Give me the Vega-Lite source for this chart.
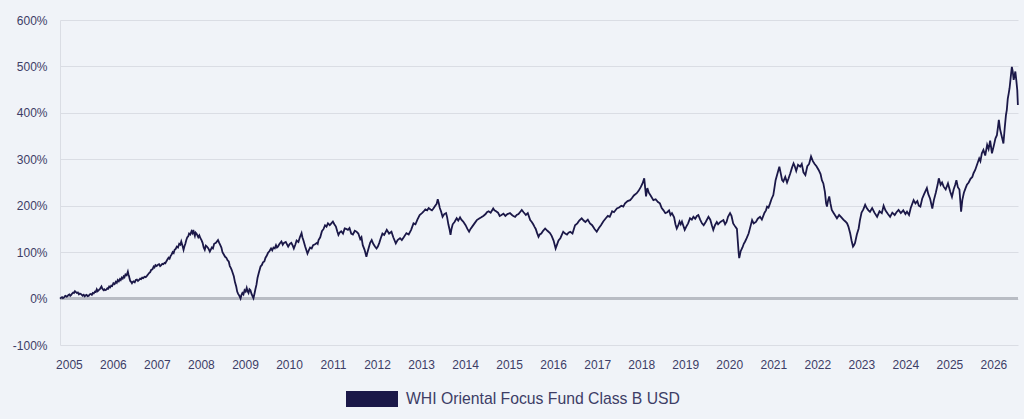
{
"$schema": "https://vega.github.io/schema/vega-lite/v6.json",
"width": 958, "height": 325,
"autosize": {"type": "none"},
"padding": {"left": 60, "top": 20, "right": 6, "bottom": 74},
"background": "#f0f3f8",
"config": {"view": {"stroke": null}, "font": "Liberation Sans"},
"data": {"values": [
{"date":"2004-10-19","value":0},{"date":"2004-10-28","value":2},{"date":"2004-11-05","value":3},{"date":"2004-11-12","value":1},{"date":"2004-11-20","value":2},{"date":"2004-11-28","value":5},{"date":"2004-12-05","value":6},{"date":"2004-12-12","value":4},{"date":"2004-12-20","value":5},{"date":"2004-12-28","value":8},
{"date":"2005-01-05","value":9},{"date":"2005-01-12","value":6},{"date":"2005-01-20","value":8},{"date":"2005-01-28","value":11},{"date":"2005-02-05","value":13},{"date":"2005-02-12","value":12},{"date":"2005-02-20","value":16},{"date":"2005-02-28","value":14},{"date":"2005-03-08","value":12},{"date":"2005-03-16","value":13},{"date":"2005-03-25","value":9},{"date":"2005-04-02","value":11},{"date":"2005-04-10","value":10},{"date":"2005-04-18","value":8},{"date":"2005-04-25","value":6},{"date":"2005-05-04","value":8},{"date":"2005-05-12","value":5},{"date":"2005-05-20","value":7},{"date":"2005-05-28","value":8},{"date":"2005-06-06","value":5},{"date":"2005-06-15","value":6},{"date":"2005-06-22","value":9},{"date":"2005-07-01","value":10},{"date":"2005-07-10","value":8},{"date":"2005-07-18","value":12},{"date":"2005-07-26","value":11},{"date":"2005-08-05","value":15},{"date":"2005-08-12","value":14},{"date":"2005-08-20","value":20},{"date":"2005-08-28","value":16},{"date":"2005-09-05","value":18},{"date":"2005-09-16","value":21},{"date":"2005-09-28","value":26},{"date":"2005-10-06","value":21},{"date":"2005-10-15","value":18},{"date":"2005-10-22","value":20},{"date":"2005-10-28","value":18},{"date":"2005-11-06","value":19},{"date":"2005-11-15","value":22},{"date":"2005-11-22","value":21},{"date":"2005-12-01","value":26},{"date":"2005-12-09","value":24},{"date":"2005-12-18","value":28},{"date":"2005-12-26","value":27},
{"date":"2006-01-05","value":33},{"date":"2006-01-15","value":31},{"date":"2006-01-25","value":36},{"date":"2006-02-02","value":34},{"date":"2006-02-10","value":40},{"date":"2006-02-19","value":37},{"date":"2006-02-28","value":42},{"date":"2006-03-07","value":40},{"date":"2006-03-15","value":45},{"date":"2006-03-23","value":43},{"date":"2006-03-31","value":48},{"date":"2006-04-07","value":46},{"date":"2006-04-15","value":52},{"date":"2006-04-25","value":50},{"date":"2006-05-05","value":58},{"date":"2006-05-10","value":52},{"date":"2006-05-15","value":48},{"date":"2006-05-20","value":42},{"date":"2006-05-25","value":38},{"date":"2006-06-01","value":36},{"date":"2006-06-08","value":33},{"date":"2006-06-15","value":36},{"date":"2006-06-22","value":37},{"date":"2006-07-01","value":35},{"date":"2006-07-10","value":40},{"date":"2006-07-19","value":41},{"date":"2006-07-28","value":38},{"date":"2006-08-06","value":40},{"date":"2006-08-15","value":43},{"date":"2006-08-23","value":42},{"date":"2006-09-01","value":45},{"date":"2006-09-10","value":44},{"date":"2006-09-20","value":47},{"date":"2006-09-30","value":46},{"date":"2006-10-10","value":49},{"date":"2006-10-19","value":52},{"date":"2006-10-28","value":55},{"date":"2006-11-06","value":57},{"date":"2006-11-15","value":62},{"date":"2006-11-25","value":63},{"date":"2006-12-05","value":69},{"date":"2006-12-12","value":67},{"date":"2006-12-20","value":72},{"date":"2006-12-30","value":70},
{"date":"2007-01-10","value":73},{"date":"2007-01-19","value":74},{"date":"2007-01-28","value":70},{"date":"2007-02-06","value":72},{"date":"2007-02-15","value":75},{"date":"2007-02-24","value":74},{"date":"2007-03-05","value":77},{"date":"2007-03-12","value":76},{"date":"2007-03-20","value":80},{"date":"2007-03-29","value":84},{"date":"2007-04-08","value":88},{"date":"2007-04-16","value":86},{"date":"2007-04-25","value":92},{"date":"2007-05-03","value":95},{"date":"2007-05-12","value":100},{"date":"2007-05-20","value":98},{"date":"2007-05-28","value":105},{"date":"2007-06-06","value":107},{"date":"2007-06-15","value":112},{"date":"2007-06-25","value":110},{"date":"2007-07-05","value":118},{"date":"2007-07-14","value":116},{"date":"2007-07-22","value":123},{"date":"2007-08-01","value":114},{"date":"2007-08-10","value":105},{"date":"2007-08-17","value":112},{"date":"2007-08-25","value":118},{"date":"2007-09-02","value":126},{"date":"2007-09-10","value":132},{"date":"2007-09-18","value":134},{"date":"2007-09-25","value":140},{"date":"2007-10-05","value":138},{"date":"2007-10-15","value":145},{"date":"2007-10-23","value":141},{"date":"2007-10-30","value":148},{"date":"2007-11-06","value":140},{"date":"2007-11-12","value":135},{"date":"2007-11-18","value":142},{"date":"2007-11-25","value":140},{"date":"2007-12-03","value":136},{"date":"2007-12-10","value":132},{"date":"2007-12-19","value":136},{"date":"2007-12-28","value":130},
{"date":"2008-01-06","value":126},{"date":"2008-01-15","value":120},{"date":"2008-01-24","value":110},{"date":"2008-02-02","value":105},{"date":"2008-02-11","value":114},{"date":"2008-02-20","value":112},{"date":"2008-03-03","value":108},{"date":"2008-03-15","value":101},{"date":"2008-03-24","value":106},{"date":"2008-04-01","value":110},{"date":"2008-04-10","value":108},{"date":"2008-04-20","value":118},{"date":"2008-05-05","value":120},{"date":"2008-05-22","value":126},{"date":"2008-06-01","value":120},{"date":"2008-06-10","value":115},{"date":"2008-06-19","value":110},{"date":"2008-06-28","value":100},{"date":"2008-07-09","value":95},{"date":"2008-07-20","value":90},{"date":"2008-07-30","value":88},{"date":"2008-08-10","value":82},{"date":"2008-08-19","value":80},{"date":"2008-08-28","value":70},{"date":"2008-09-05","value":66},{"date":"2008-09-12","value":62},{"date":"2008-09-21","value":55},{"date":"2008-09-30","value":48},{"date":"2008-10-10","value":35},{"date":"2008-10-20","value":26},{"date":"2008-10-28","value":15},{"date":"2008-11-05","value":10},{"date":"2008-11-15","value":6},{"date":"2008-11-25","value":0},{"date":"2008-12-03","value":8},{"date":"2008-12-10","value":12},{"date":"2008-12-19","value":9},{"date":"2008-12-28","value":18},
{"date":"2009-01-06","value":15},{"date":"2009-01-15","value":23},{"date":"2009-01-22","value":16},{"date":"2009-01-30","value":12},{"date":"2009-02-07","value":20},{"date":"2009-02-15","value":18},{"date":"2009-02-24","value":10},{"date":"2009-03-05","value":5},{"date":"2009-03-12","value":1},{"date":"2009-03-20","value":10},{"date":"2009-03-28","value":20},{"date":"2009-04-06","value":30},{"date":"2009-04-15","value":45},{"date":"2009-04-25","value":55},{"date":"2009-05-10","value":69},{"date":"2009-05-20","value":72},{"date":"2009-05-30","value":78},{"date":"2009-06-10","value":80},{"date":"2009-06-20","value":88},{"date":"2009-06-30","value":92},{"date":"2009-07-10","value":98},{"date":"2009-07-22","value":102},{"date":"2009-08-05","value":108},{"date":"2009-08-15","value":104},{"date":"2009-08-25","value":110},{"date":"2009-09-05","value":108},{"date":"2009-09-15","value":115},{"date":"2009-09-23","value":110},{"date":"2009-10-01","value":112},{"date":"2009-10-15","value":118},{"date":"2009-10-30","value":123},{"date":"2009-11-10","value":116},{"date":"2009-11-20","value":120},{"date":"2009-12-05","value":122},{"date":"2009-12-25","value":112},
{"date":"2010-01-08","value":118},{"date":"2010-01-20","value":120},{"date":"2010-02-01","value":114},{"date":"2010-02-10","value":108},{"date":"2010-02-22","value":116},{"date":"2010-03-05","value":125},{"date":"2010-03-20","value":122},{"date":"2010-04-01","value":132},{"date":"2010-04-15","value":141},{"date":"2010-04-22","value":132},{"date":"2010-05-01","value":125},{"date":"2010-05-15","value":112},{"date":"2010-06-03","value":97},{"date":"2010-06-14","value":104},{"date":"2010-06-25","value":110},{"date":"2010-07-08","value":108},{"date":"2010-07-20","value":115},{"date":"2010-08-05","value":117},{"date":"2010-08-20","value":120},{"date":"2010-08-27","value":118},{"date":"2010-09-03","value":126},{"date":"2010-09-17","value":132},{"date":"2010-10-01","value":145},{"date":"2010-10-15","value":150},{"date":"2010-10-27","value":158},{"date":"2010-11-08","value":155},{"date":"2010-11-20","value":162},{"date":"2010-12-05","value":158},{"date":"2010-12-18","value":162},{"date":"2010-12-31","value":166},
{"date":"2011-01-12","value":160},{"date":"2011-01-25","value":155},{"date":"2011-02-05","value":145},{"date":"2011-02-15","value":137},{"date":"2011-02-25","value":142},{"date":"2011-03-10","value":145},{"date":"2011-03-25","value":140},{"date":"2011-04-08","value":151},{"date":"2011-04-20","value":150},{"date":"2011-05-05","value":148},{"date":"2011-05-18","value":152},{"date":"2011-06-01","value":140},{"date":"2011-06-15","value":138},{"date":"2011-07-01","value":146},{"date":"2011-07-15","value":144},{"date":"2011-07-30","value":140},{"date":"2011-08-15","value":128},{"date":"2011-08-25","value":132},{"date":"2011-09-05","value":115},{"date":"2011-09-20","value":105},{"date":"2011-10-05","value":90},{"date":"2011-10-14","value":100},{"date":"2011-10-25","value":110},{"date":"2011-11-05","value":120},{"date":"2011-11-18","value":126},{"date":"2011-12-01","value":118},{"date":"2011-12-15","value":112},{"date":"2011-12-28","value":108},
{"date":"2012-01-08","value":112},{"date":"2012-01-20","value":120},{"date":"2012-02-01","value":130},{"date":"2012-02-15","value":140},{"date":"2012-03-01","value":137},{"date":"2012-03-22","value":148},{"date":"2012-04-10","value":140},{"date":"2012-04-30","value":144},{"date":"2012-05-15","value":132},{"date":"2012-06-05","value":119},{"date":"2012-06-20","value":126},{"date":"2012-07-10","value":130},{"date":"2012-07-25","value":126},{"date":"2012-08-10","value":132},{"date":"2012-09-01","value":141},{"date":"2012-09-20","value":138},{"date":"2012-10-10","value":148},{"date":"2012-10-30","value":162},{"date":"2012-11-15","value":160},{"date":"2012-12-01","value":170},{"date":"2012-12-20","value":180},
{"date":"2013-01-08","value":184},{"date":"2013-01-20","value":187},{"date":"2013-02-05","value":192},{"date":"2013-02-20","value":190},{"date":"2013-03-05","value":195},{"date":"2013-03-20","value":192},{"date":"2013-04-01","value":190},{"date":"2013-04-13","value":194},{"date":"2013-04-28","value":200},{"date":"2013-05-10","value":204},{"date":"2013-05-19","value":214},{"date":"2013-05-28","value":205},{"date":"2013-06-05","value":195},{"date":"2013-06-15","value":188},{"date":"2013-06-28","value":176},{"date":"2013-07-12","value":182},{"date":"2013-07-27","value":184},{"date":"2013-08-05","value":175},{"date":"2013-08-15","value":160},{"date":"2013-08-24","value":150},{"date":"2013-09-02","value":137},{"date":"2013-09-10","value":150},{"date":"2013-09-20","value":160},{"date":"2013-10-05","value":165},{"date":"2013-10-23","value":173},{"date":"2013-11-05","value":168},{"date":"2013-11-20","value":175},{"date":"2013-12-01","value":170},{"date":"2013-12-16","value":166},
{"date":"2014-01-05","value":158},{"date":"2014-01-20","value":150},{"date":"2014-02-03","value":144},{"date":"2014-02-15","value":150},{"date":"2014-03-01","value":155},{"date":"2014-03-20","value":162},{"date":"2014-04-08","value":169},{"date":"2014-04-25","value":172},{"date":"2014-05-15","value":175},{"date":"2014-06-01","value":178},{"date":"2014-06-20","value":182},{"date":"2014-07-01","value":186},{"date":"2014-07-15","value":188},{"date":"2014-08-01","value":185},{"date":"2014-08-22","value":194},{"date":"2014-09-01","value":190},{"date":"2014-09-15","value":188},{"date":"2014-10-01","value":185},{"date":"2014-10-15","value":178},{"date":"2014-10-30","value":180},{"date":"2014-11-15","value":183},{"date":"2014-12-01","value":178},{"date":"2014-12-18","value":182},
{"date":"2015-01-08","value":184},{"date":"2015-01-25","value":180},{"date":"2015-02-05","value":178},{"date":"2015-02-20","value":176},{"date":"2015-03-05","value":180},{"date":"2015-03-20","value":182},{"date":"2015-04-01","value":186},{"date":"2015-04-16","value":191},{"date":"2015-05-01","value":186},{"date":"2015-05-20","value":180},{"date":"2015-06-05","value":184},{"date":"2015-06-25","value":169},{"date":"2015-07-08","value":165},{"date":"2015-07-20","value":160},{"date":"2015-07-30","value":155},{"date":"2015-08-10","value":150},{"date":"2015-08-20","value":142},{"date":"2015-09-02","value":133},{"date":"2015-09-12","value":138},{"date":"2015-09-25","value":140},{"date":"2015-10-10","value":146},{"date":"2015-10-27","value":151},{"date":"2015-11-15","value":146},{"date":"2015-12-06","value":141},{"date":"2015-12-20","value":135},
{"date":"2016-01-05","value":125},{"date":"2016-01-22","value":108},{"date":"2016-02-01","value":115},{"date":"2016-02-15","value":125},{"date":"2016-03-01","value":130},{"date":"2016-03-25","value":144},{"date":"2016-04-10","value":140},{"date":"2016-04-25","value":138},{"date":"2016-05-08","value":142},{"date":"2016-05-22","value":144},{"date":"2016-06-10","value":140},{"date":"2016-07-01","value":158},{"date":"2016-07-20","value":162},{"date":"2016-08-05","value":168},{"date":"2016-08-25","value":173},{"date":"2016-09-10","value":168},{"date":"2016-09-25","value":165},{"date":"2016-10-15","value":170},{"date":"2016-11-02","value":162},{"date":"2016-11-20","value":158},{"date":"2016-12-10","value":150},{"date":"2016-12-28","value":144},
{"date":"2017-01-15","value":152},{"date":"2017-02-01","value":158},{"date":"2017-02-20","value":166},{"date":"2017-03-10","value":172},{"date":"2017-03-30","value":178},{"date":"2017-04-15","value":176},{"date":"2017-05-05","value":188},{"date":"2017-05-20","value":186},{"date":"2017-06-13","value":194},{"date":"2017-07-01","value":196},{"date":"2017-07-20","value":200},{"date":"2017-08-05","value":198},{"date":"2017-08-20","value":205},{"date":"2017-09-10","value":210},{"date":"2017-10-01","value":212},{"date":"2017-10-15","value":216},{"date":"2017-11-01","value":222},{"date":"2017-11-25","value":227},{"date":"2017-12-10","value":232},{"date":"2017-12-28","value":240},
{"date":"2018-01-12","value":248},{"date":"2018-01-26","value":259},{"date":"2018-02-03","value":238},{"date":"2018-02-10","value":220},{"date":"2018-02-21","value":238},{"date":"2018-03-05","value":228},{"date":"2018-03-20","value":222},{"date":"2018-04-12","value":212},{"date":"2018-05-01","value":214},{"date":"2018-05-20","value":208},{"date":"2018-06-05","value":205},{"date":"2018-06-20","value":195},{"date":"2018-07-05","value":190},{"date":"2018-07-20","value":184},{"date":"2018-08-05","value":186},{"date":"2018-08-20","value":190},{"date":"2018-09-01","value":180},{"date":"2018-09-13","value":184},{"date":"2018-10-01","value":175},{"date":"2018-10-12","value":160},{"date":"2018-10-23","value":151},{"date":"2018-11-05","value":158},{"date":"2018-11-15","value":166},{"date":"2018-11-25","value":160},{"date":"2018-12-05","value":166},{"date":"2018-12-15","value":158},{"date":"2018-12-28","value":148},
{"date":"2019-01-10","value":155},{"date":"2019-01-25","value":162},{"date":"2019-02-10","value":173},{"date":"2019-02-25","value":170},{"date":"2019-03-10","value":176},{"date":"2019-03-25","value":172},{"date":"2019-04-08","value":178},{"date":"2019-04-20","value":180},{"date":"2019-05-05","value":170},{"date":"2019-05-20","value":162},{"date":"2019-06-03","value":158},{"date":"2019-06-20","value":165},{"date":"2019-07-13","value":176},{"date":"2019-07-28","value":170},{"date":"2019-08-10","value":158},{"date":"2019-08-22","value":148},{"date":"2019-09-05","value":158},{"date":"2019-09-20","value":165},{"date":"2019-10-01","value":160},{"date":"2019-10-20","value":165},{"date":"2019-11-14","value":169},{"date":"2019-11-28","value":160},{"date":"2019-12-10","value":165},{"date":"2019-12-22","value":176},
{"date":"2020-01-08","value":184},{"date":"2020-01-20","value":178},{"date":"2020-02-03","value":162},{"date":"2020-02-20","value":155},{"date":"2020-03-05","value":150},{"date":"2020-03-12","value":125},{"date":"2020-03-19","value":100},{"date":"2020-03-24","value":87},{"date":"2020-04-05","value":102},{"date":"2020-04-20","value":110},{"date":"2020-05-01","value":118},{"date":"2020-05-12","value":123},{"date":"2020-05-25","value":130},{"date":"2020-06-10","value":140},{"date":"2020-06-25","value":155},{"date":"2020-07-09","value":169},{"date":"2020-07-22","value":162},{"date":"2020-08-10","value":165},{"date":"2020-08-25","value":172},{"date":"2020-09-13","value":176},{"date":"2020-09-28","value":170},{"date":"2020-10-20","value":185},{"date":"2020-11-01","value":190},{"date":"2020-11-10","value":198},{"date":"2020-11-22","value":196},{"date":"2020-12-05","value":205},{"date":"2020-12-18","value":215},
{"date":"2021-01-01","value":223},{"date":"2021-01-10","value":238},{"date":"2021-01-20","value":255},{"date":"2021-02-05","value":270},{"date":"2021-02-20","value":284},{"date":"2021-03-05","value":268},{"date":"2021-03-15","value":255},{"date":"2021-03-25","value":252},{"date":"2021-04-10","value":262},{"date":"2021-04-25","value":250},{"date":"2021-05-08","value":259},{"date":"2021-05-22","value":270},{"date":"2021-06-05","value":282},{"date":"2021-06-18","value":291},{"date":"2021-06-28","value":285},{"date":"2021-07-10","value":275},{"date":"2021-07-25","value":288},{"date":"2021-08-12","value":284},{"date":"2021-08-25","value":290},{"date":"2021-09-08","value":272},{"date":"2021-09-24","value":266},{"date":"2021-10-10","value":285},{"date":"2021-10-25","value":290},{"date":"2021-11-10","value":306},{"date":"2021-11-25","value":296},{"date":"2021-12-10","value":290},{"date":"2021-12-25","value":285},
{"date":"2022-01-12","value":277},{"date":"2022-01-28","value":268},{"date":"2022-02-08","value":255},{"date":"2022-02-20","value":248},{"date":"2022-03-05","value":230},{"date":"2022-03-15","value":205},{"date":"2022-03-22","value":198},{"date":"2022-04-01","value":212},{"date":"2022-04-10","value":220},{"date":"2022-04-20","value":205},{"date":"2022-05-01","value":191},{"date":"2022-05-15","value":185},{"date":"2022-06-01","value":178},{"date":"2022-06-13","value":173},{"date":"2022-07-01","value":180},{"date":"2022-07-20","value":175},{"date":"2022-08-05","value":170},{"date":"2022-08-22","value":166},{"date":"2022-09-05","value":162},{"date":"2022-09-16","value":155},{"date":"2022-10-01","value":140},{"date":"2022-10-12","value":125},{"date":"2022-10-24","value":112},{"date":"2022-11-01","value":115},{"date":"2022-11-10","value":120},{"date":"2022-11-25","value":138},{"date":"2022-12-10","value":151},{"date":"2022-12-20","value":168},
{"date":"2023-01-03","value":185},{"date":"2023-01-18","value":192},{"date":"2023-02-02","value":202},{"date":"2023-02-15","value":195},{"date":"2023-03-01","value":190},{"date":"2023-03-14","value":187},{"date":"2023-04-01","value":195},{"date":"2023-04-20","value":185},{"date":"2023-05-12","value":176},{"date":"2023-06-01","value":188},{"date":"2023-06-20","value":184},{"date":"2023-07-05","value":200},{"date":"2023-07-20","value":190},{"date":"2023-08-10","value":182},{"date":"2023-08-28","value":176},{"date":"2023-09-15","value":185},{"date":"2023-10-05","value":180},{"date":"2023-10-20","value":186},{"date":"2023-11-06","value":191},{"date":"2023-11-25","value":184},{"date":"2023-12-15","value":190},
{"date":"2024-01-02","value":182},{"date":"2024-01-15","value":187},{"date":"2024-02-01","value":180},{"date":"2024-02-15","value":195},{"date":"2024-03-10","value":212},{"date":"2024-03-25","value":205},{"date":"2024-04-10","value":210},{"date":"2024-04-22","value":200},{"date":"2024-05-05","value":198},{"date":"2024-05-20","value":215},{"date":"2024-06-05","value":225},{"date":"2024-06-28","value":238},{"date":"2024-07-10","value":225},{"date":"2024-07-25","value":215},{"date":"2024-08-12","value":194},{"date":"2024-08-25","value":212},{"date":"2024-09-10","value":228},{"date":"2024-09-25","value":245},{"date":"2024-10-05","value":259},{"date":"2024-10-20","value":245},{"date":"2024-11-01","value":250},{"date":"2024-11-14","value":241},{"date":"2024-12-01","value":235},{"date":"2024-12-20","value":248},
{"date":"2025-01-08","value":230},{"date":"2025-01-22","value":219},{"date":"2025-02-05","value":235},{"date":"2025-02-18","value":245},{"date":"2025-02-28","value":255},{"date":"2025-03-12","value":240},{"date":"2025-03-25","value":235},{"date":"2025-04-08","value":187},{"date":"2025-04-18","value":212},{"date":"2025-05-01","value":228},{"date":"2025-05-15","value":238},{"date":"2025-05-26","value":245},{"date":"2025-06-10","value":250},{"date":"2025-06-25","value":258},{"date":"2025-07-10","value":262},{"date":"2025-07-20","value":270},{"date":"2025-08-03","value":277},{"date":"2025-08-20","value":290},{"date":"2025-09-05","value":302},{"date":"2025-09-15","value":296},{"date":"2025-09-27","value":313},{"date":"2025-10-10","value":320},{"date":"2025-10-25","value":308},{"date":"2025-11-10","value":331},{"date":"2025-11-22","value":322},{"date":"2025-12-05","value":340},{"date":"2025-12-20","value":313},
{"date":"2026-01-05","value":330},{"date":"2026-01-18","value":345},{"date":"2026-01-30","value":352},{"date":"2026-02-08","value":370},{"date":"2026-02-15","value":385},{"date":"2026-02-25","value":365},{"date":"2026-03-05","value":356},{"date":"2026-03-15","value":345},{"date":"2026-03-25","value":334},{"date":"2026-04-05","value":368},{"date":"2026-04-15","value":395},{"date":"2026-04-22","value":406},{"date":"2026-04-30","value":430},{"date":"2026-05-08","value":442},{"date":"2026-05-15","value":453},{"date":"2026-05-22","value":470},{"date":"2026-05-28","value":485},{"date":"2026-06-03","value":499},{"date":"2026-06-10","value":490},{"date":"2026-06-18","value":471},{"date":"2026-06-25","value":480},{"date":"2026-07-02","value":489},{"date":"2026-07-10","value":470},{"date":"2026-07-18","value":449},{"date":"2026-07-23","value":417}
]},
"layer": [
 {"mark": {"type": "rule", "color": "#b9bcc4", "strokeWidth": 1.5}, "encoding": {"y": {"datum": 0, "type": "quantitative"}}},
 {"mark": {"type": "line", "strokeWidth": 1.8, "strokeJoin": "miter"},
  "encoding": {
   "x": {"field": "date", "type": "temporal",
         "scale": {"domain": [{"year": 2004, "month": 10, "date": 19}, {"year": 2026, "month": 7, "date": 24}], "nice": false},
         "axis": {"title": null, "format": "%Y", "tickCount": {"interval": "year", "step": 1}, "grid": false, "ticks": false, "domain": false, "labelPadding": 14, "labelFontSize": 12, "labelColor": "#3d3d66", "labelFlush": false, "labelOverlap": false}},
   "y": {"field": "value", "type": "quantitative",
         "scale": {"domain": [-100, 600], "nice": false},
         "axis": {"title": null, "values": [-100, 0, 100, 200, 300, 400, 500, 600], "labelExpr": "datum.value + '%'", "grid": true, "gridColor": "#dadde4", "gridWidth": 1, "domain": true, "domainColor": "#dadde4", "ticks": false, "labelPadding": 13, "labelFontSize": 12, "labelColor": "#3d3d66"}},
   "color": {"datum": "WHI Oriental Focus Fund Class B USD", "type": "nominal",
             "scale": {"range": ["#1b1848"]},
             "legend": {"title": null, "orient": "none", "legendX": 286, "legendY": 353, "padding": 0, "labelLimit": 0,
                        "symbolType": "M-1,-0.3077H1V0.3077H-1Z", "symbolSize": 2704, "symbolFillColor": "#1b1848", "symbolStrokeColor": "#1b1848", "symbolStrokeWidth": 0,
                        "labelFontSize": 15.75, "labelColor": "#3d3d66", "labelOffset": 8}}
  }}
]
}
